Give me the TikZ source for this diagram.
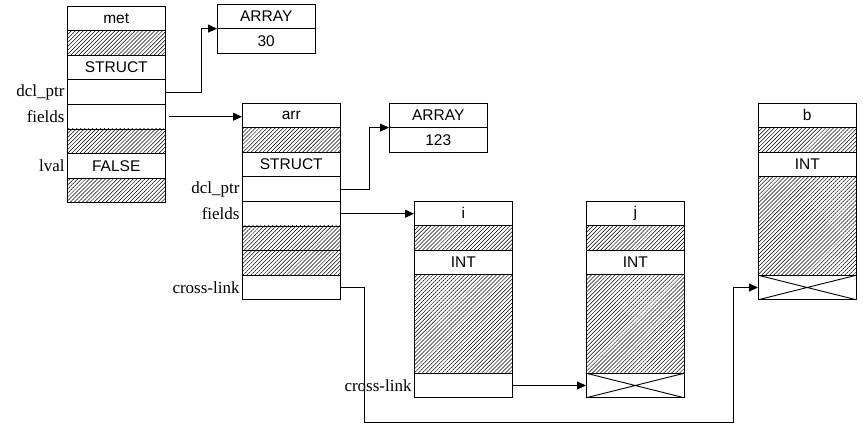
\documentclass[tikz,border=0pt]{standalone}
\usepackage{fontspec}
\setmainfont{Liberation Serif}
\setsansfont{Liberation Sans}
\usetikzlibrary{positioning,patterns.meta,arrows.meta}
\begin{document}
\begin{tikzpicture}[x=1pt,y=-1pt,line width=0.9pt,
    cell/.style={draw,rectangle,minimum width=98.5pt,minimum height=24.6pt,inner sep=0pt,outer sep=0pt,
        font=\sffamily\fontsize{15.5}{17}\selectfont},
    hatch/.style={cell,pattern={Lines[angle=45,distance=2.8pt,line width=0.5pt]}},
    tallhatch/.style={hatch,minimum height=98.4pt},
    lbl/.style={inner sep=0pt,font=\fontsize{17}{19}\selectfont},
    link/.style={-{Triangle[length=9pt,width=8pt]}}]
    \useasboundingbox (0,0) rectangle (863,427);
    % met
    \node[cell,anchor=north west] (met0) at (67,6) {met};
    \foreach \s/\t [count=\n] in {hatch/{},cell/STRUCT,cell/{},cell/{},hatch/{},cell/FALSE,hatch/{}} {
        \pgfmathtruncatemacro\p{\n-1}
        \node[\s,below=0pt of met\p] (met\n) {\t};
    }
    \node[lbl,left=2pt of met3] (metdcl) {dcl\_ptr};
    \node[lbl,left=2pt of met4] (metfld) {fields};
    \node[lbl,left=2pt of met6] (metlval) {lval};
    % first array
    \node[cell,anchor=north west] (arA0) at (217,4) {ARRAY};
    \node[cell,below=0pt of arA0] (arA1) {30};
    % arr
    \node[cell,anchor=north west] (arr0) at (242,103) {arr};
    \foreach \s/\t [count=\n] in {hatch/{},cell/STRUCT,cell/{},cell/{},hatch/{},hatch/{},cell/{}} {
        \pgfmathtruncatemacro\p{\n-1}
        \node[\s,below=0pt of arr\p] (arr\n) {\t};
    }
    \node[lbl,left=2pt of arr3] (arrdcl) {dcl\_ptr};
    \node[lbl,left=2pt of arr4] (arrfld) {fields};
    \node[lbl,left=2pt of arr7] (arrcl) {cross-link};
    % second array
    \node[cell,anchor=north west] (arB0) at (389,103) {ARRAY};
    \node[cell,below=0pt of arB0] (arB1) {123};
    % i, j and b
    \foreach \b/\x/\y in {i/414/201,j/586/201,b/758/103} {
        \node[cell,anchor=north west] (\b0) at (\x,\y) {\b};
        \node[hatch,below=0pt of \b0] (\b1) {};
        \node[cell,below=0pt of \b1] (\b2) {INT};
        \node[tallhatch,below=0pt of \b2] (\b3) {};
        \node[cell,below=0pt of \b3] (\b4) {};
    }
    \node[lbl,left=2pt of i4] (icl) {cross-link};
    \draw (j4.north west) -- (j4.south east) (j4.south west) -- (j4.north east);
    \draw (b4.north west) -- (b4.south east) (b4.south west) -- (b4.north east);
    % links
    \coordinate (low) at (0,422);
    \draw[link] (met3.east) -- ++(36,0) |- (arA0.south west);
    \draw[link,shorten <=3pt] (met4.east) -- (met4.east -| arr0.west);
    \draw[link] (arr3.east) -- ++(29,0) |- (arB0.south west);
    \draw[link] (arr4.east) -- (arr4.east -| i0.west);
    \draw[link] (i4.east) -- (j4.west);
    \draw[link] (arr7.east) -- ++(24,0) coordinate (c) -- (c |- low) -| ([xshift=-25pt]b4.west) -- (b4.west);
\end{tikzpicture}
\end{document}
